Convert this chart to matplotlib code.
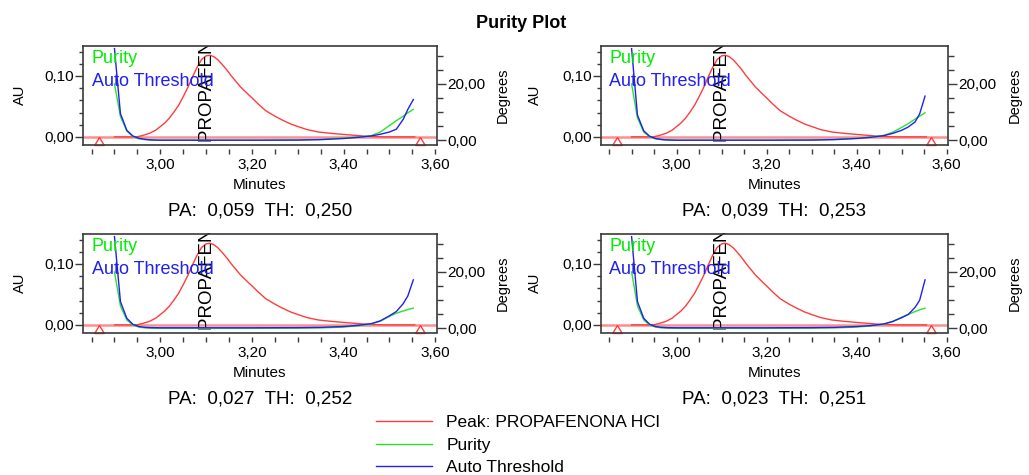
import matplotlib
matplotlib.use('Agg')
import matplotlib.pyplot as plt
from matplotlib.ticker import FixedLocator, MultipleLocator, FuncFormatter

plt.rcParams['font.family'] = ['Liberation Sans', 'DejaVu Sans']

W, H = 1029, 475

# chromatogram of the main peak (AU)
peak_name = 'PROPAFENONA HCl'
peak_time = [2.900, 2.948, 2.960, 2.977, 2.990, 3.000, 3.010, 3.020, 3.030, 3.040, 3.050, 3.060,
             3.070, 3.080, 3.090, 3.100, 3.108, 3.116, 3.125, 3.135, 3.145, 3.155, 3.165, 3.175,
             3.190, 3.200, 3.215, 3.230, 3.250, 3.265, 3.285, 3.300, 3.320, 3.345, 3.370, 3.400,
             3.450, 3.490, 3.555]
peak_au = [0.0, 0.0, 0.002, 0.006, 0.011, 0.017, 0.023, 0.031, 0.041, 0.052, 0.066, 0.081,
           0.098, 0.114, 0.127, 0.133, 0.134, 0.132, 0.127, 0.119, 0.110, 0.100, 0.091, 0.082,
           0.071, 0.064, 0.053, 0.043, 0.034, 0.028, 0.021, 0.017, 0.012, 0.008, 0.006, 0.004,
           0.001, 0.0, 0.0]
peak_apex = 3.102
peak_marks = [2.867, 3.566]

# purity / threshold angles (degrees), one list per injection
angle_time = [2.900, 2.913, 2.927, 2.940, 2.953, 2.967, 2.980, 3.000, 3.100, 3.200, 3.300,
              3.350, 3.400, 3.430, 3.460, 3.480, 3.500, 3.515, 3.530, 3.540, 3.552]
purity_1 = [20.0, 8.5, 3.3, 1.4, 0.6, 0.3, 0.15, 0.1, 0.1, 0.1, 0.2, 0.4, 0.9, 1.2, 1.7, 3.0, 5.3, 7.0, 8.6, 9.8, 11.0]
thresh_1 = [32.5, 9.5, 3.6, 1.6, 0.8, 0.4, 0.2, 0.1, 0.1, 0.1, 0.15, 0.3, 0.7, 1.1, 1.6, 2.2, 3.0, 4.0, 7.5, 11.0, 14.5]
purity_2 = [20.0, 8.0, 3.0, 1.3, 0.6, 0.3, 0.15, 0.1, 0.1, 0.1, 0.2, 0.4, 0.8, 1.2, 1.8, 2.9, 4.6, 6.0, 7.6, 8.6, 9.8]
thresh_2 = [32.5, 9.0, 3.4, 1.5, 0.7, 0.35, 0.2, 0.1, 0.1, 0.1, 0.15, 0.3, 0.7, 1.1, 1.7, 2.5, 3.6, 4.8, 6.6, 9.4, 15.7]
purity_3 = [20.0, 8.0, 3.0, 1.2, 0.5, 0.2, 0.1, 0.05, 0.05, 0.05, 0.1, 0.2, 0.5, 0.9, 1.6, 2.6, 4.3, 5.4, 6.2, 6.7, 7.2]
thresh_3 = [32.5, 9.5, 3.6, 1.5, 0.7, 0.4, 0.3, 0.25, 0.25, 0.25, 0.3, 0.4, 0.7, 1.1, 1.7, 2.7, 4.5, 6.0, 8.8, 11.5, 17.2]
purity_4 = [20.0, 8.0, 3.0, 1.2, 0.5, 0.2, 0.1, 0.05, 0.05, 0.05, 0.1, 0.2, 0.5, 0.9, 1.5, 2.4, 4.0, 5.0, 6.0, 6.6, 7.2]
thresh_4 = [32.5, 9.5, 3.6, 1.5, 0.7, 0.4, 0.3, 0.25, 0.25, 0.25, 0.3, 0.4, 0.7, 1.0, 1.6, 2.5, 3.8, 5.0, 7.5, 10.0, 17.2]

pa_values = [0.059, 0.039, 0.027, 0.023]
th_values = [0.250, 0.253, 0.252, 0.251]

RED = '#ff3c3c'
GREEN = '#2ee02e'
BLUE = '#2020f0'
FRAME = '#3a3a3a'


def comma(v, p=None):
    return format(v, '.2f').replace('.', ',')


fig = plt.figure(figsize=(W / 100, H / 100), dpi=100)

# panel boxes in pixels: left, top, right, bottom, and where the AU / Degrees labels sit
boxes = [(83.3, 45.5, 436.7, 144.5), (601, 45.5, 948, 144.5),
         (83.3, 233.5, 436.7, 332.5), (601, 233.5, 948, 332.5)]
au_x = [20, 535, 20, 535]
deg_x = [503, 1015, 503, 1015]
purities = [purity_1, purity_2, purity_3, purity_4]
thresholds = [thresh_1, thresh_2, thresh_3, thresh_4]

handles = []
for i, (x0, y0, x1, y1) in enumerate(boxes):
    ax = fig.add_axes([x0 / W, 1 - y1 / H, (x1 - x0) / W, (y1 - y0) / H])
    ax2 = ax.twinx()

    ax.axhline(0, color='#ff5050', lw=1.8, alpha=0.65, zorder=1)
    red, = ax.plot(peak_time, peak_au, color=RED, lw=1.0, zorder=2)
    ax.plot(peak_marks, [0, 0], ls='none', color=RED, mfc='none', mew=1.0, ms=11.5,
            marker=[(0, 0), (-0.6, -1), (0.6, -1), (0, 0)], clip_on=False, zorder=3)
    ax.text(peak_apex, -0.008, peak_name, rotation=90, ha='center', va='bottom',
            fontsize=13.5, color='black', clip_on=True, zorder=4)

    green, = ax2.plot(angle_time, purities[i], color=GREEN, lw=1.0)
    blue, = ax2.plot(angle_time, thresholds[i], color=BLUE, lw=1.0)
    if i == 0:
        handles = [red, green, blue]

    ax2.text(0.024, 0.866, 'Purity', color='#00ee00', fontsize=13, transform=ax2.transAxes, va='center')
    ax2.text(0.024, 0.636, 'Auto Threshold', color=BLUE, fontsize=13, transform=ax2.transAxes, va='center')

    ax.set_xlim(2.832, 3.603)
    ax.set_ylim(-0.0125, 0.150)
    ax2.set_ylim(-1.42, 33.6)

    for s in ax.spines.values():
        s.set_visible(False)
    ax.spines['bottom'].set_position(('outward', 3))
    for s in ax2.spines.values():
        s.set_color(FRAME)
        s.set_linewidth(1.2)

    ax.xaxis.set_major_locator(FixedLocator([3.0, 3.2, 3.4, 3.6]))
    ax.xaxis.set_minor_locator(MultipleLocator(0.05))
    ax.xaxis.set_major_formatter(FuncFormatter(comma))
    ax.yaxis.set_major_locator(FixedLocator([0.0, 0.1]))
    ax.yaxis.set_minor_locator(FixedLocator([0.02, 0.04, 0.06, 0.08, 0.12, 0.14]))
    ax.yaxis.set_major_formatter(FuncFormatter(comma))
    ax2.yaxis.set_major_locator(FixedLocator([0, 20]))
    ax2.yaxis.set_minor_locator(FixedLocator([5, 10, 15, 25, 30]))
    ax2.yaxis.set_major_formatter(FuncFormatter(comma))

    ax.tick_params(axis='x', which='both', direction='out', length=3.3, width=1, color=FRAME,
                   labelsize=11, pad=3.5)
    ax.tick_params(axis='y', which='major', length=5.8, width=1, color=FRAME, labelsize=11, pad=1)
    ax.tick_params(axis='y', which='minor', length=2.9, width=1, color=FRAME)
    ax2.tick_params(axis='y', which='major', length=6.5, width=1, color=FRAME, labelsize=11, pad=1)
    ax2.tick_params(axis='y', which='minor', length=4.3, width=1, color=FRAME)

    ax.set_xlabel('Minutes', fontsize=11)
    ax.xaxis.set_label_coords(0.5, -40.5 / (y1 - y0))
    ax.xaxis.label.set_va('center')
    ax.set_ylabel('AU', fontsize=10.5)
    ax.yaxis.label.set_va('center')
    ax.yaxis.set_label_coords((au_x[i] - x0) / (x1 - x0), 0.5)
    ax2.set_ylabel('Degrees', fontsize=10.5)
    ax2.yaxis.label.set_va('center')
    ax2.yaxis.set_label_coords((deg_x[i] - x0) / (x1 - x0), 0.5)

    txt = 'PA:  %s  TH:  %s' % (format(pa_values[i], '.3f').replace('.', ','),
                                  format(th_values[i], '.3f').replace('.', ','))
    fig.text((x0 + x1) / 2 / W, 1 - (y1 + 66.5) / H, txt, ha='center', va='center', fontsize=13.5)

fig.text(521 / W, 1 - 24 / H, 'Purity Plot', ha='center', va='center', fontsize=13, fontweight='bold')

fig.legend(handles, ['Peak: ' + peak_name, 'Purity', 'Auto Threshold'], loc='upper left',
           bbox_to_anchor=(376 / W, 1 - 415 / H), frameon=False, fontsize=12.5,
           handlelength=3.2, handletextpad=0.85, labelspacing=0.42, borderpad=0, borderaxespad=0)

fig.savefig('out.png', dpi=100)
